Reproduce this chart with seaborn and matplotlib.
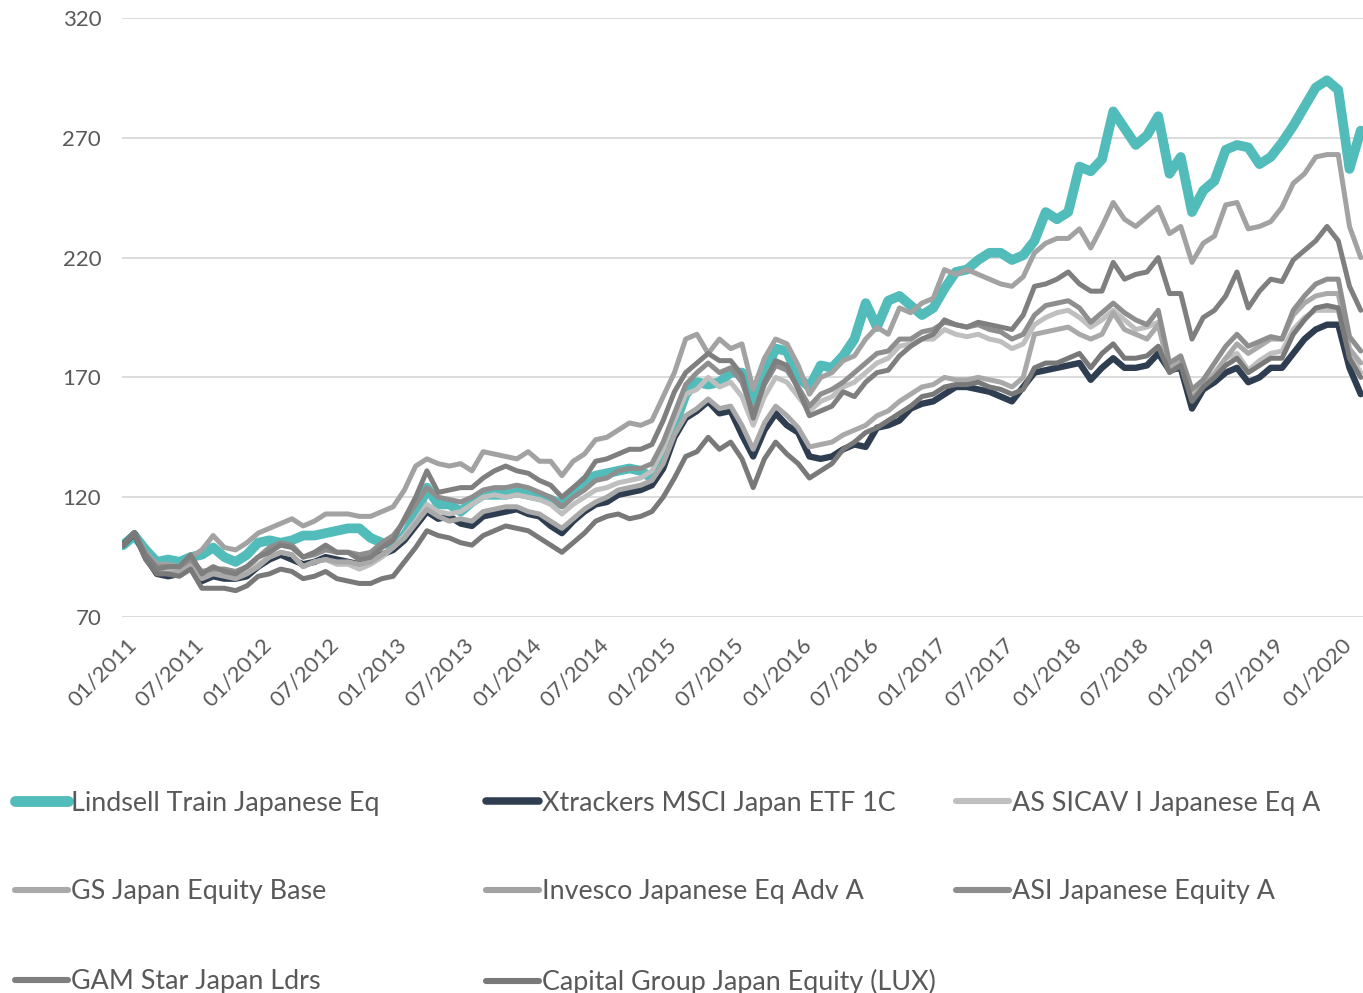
import numpy as np
import pandas as pd
import matplotlib
matplotlib.use("Agg")
import matplotlib.pyplot as plt
import seaborn as sns
from matplotlib.lines import Line2D
from matplotlib.transforms import ScaledTranslation

# ---------------- data ----------------
months = pd.date_range("2011-01-01", "2020-03-01", freq="MS")
tick_labels = ["01/2011", "07/2011", "01/2012", "07/2012", "01/2013", "07/2013",
               "01/2014", "07/2014", "01/2015", "07/2015", "01/2016", "07/2016",
               "01/2017", "07/2017", "01/2018", "07/2018", "01/2019", "07/2019",
               "01/2020"]

lindsell = [100, 104, 98, 93, 94, 93, 95, 96, 99, 95, 93, 96,
            101, 102, 101, 102, 104, 104, 105, 106, 107, 107, 103, 101,
            100, 104, 112, 124, 117, 117, 114, 118, 121, 121, 121, 122,
            121, 120, 119, 117, 122, 127, 129, 130, 131, 132, 131, 128,
            137, 150, 163, 168, 167, 168, 172, 172, 158, 172, 182, 181,
            170, 166, 175, 174, 179, 186, 201, 191, 202, 204, 200, 196,
            199, 207, 214, 215, 219, 222, 222, 219, 221, 227, 239, 236,
            239, 258, 256, 261, 281, 274, 267, 271, 279, 255, 262, 239,
            248, 252, 265, 267, 266, 259, 262, 268, 275, 283, 291, 294,
            290, 257, 273]

xtrackers = [100, 105, 95, 88, 87, 88, 92, 85, 87, 86, 86, 87,
             91, 94, 96, 94, 92, 93, 95, 94, 93, 92, 94, 96,
             98, 102, 108, 114, 111, 112, 109, 108, 112, 113, 114, 115,
             113, 112, 108, 105, 110, 114, 117, 118, 121, 122, 123, 125,
             132, 145, 153, 156, 160, 155, 156, 146, 137, 148, 155, 150,
             147, 137, 136, 137, 140, 142, 141, 149, 150, 152, 157, 159,
             160, 163, 166, 166, 165, 164, 162, 160, 166, 172, 173, 174,
             175, 176, 169, 174, 178, 174, 174, 175, 180, 173, 174, 157,
             165, 168, 172, 174, 168, 170, 174, 174, 180, 186, 190, 192,
             192, 174, 163]

as_sicav = [100, 105, 95, 90, 89, 89, 93, 87, 89, 88, 87, 89,
            92, 95, 97, 96, 91, 93, 94, 92, 92, 90, 92, 95,
            99, 104, 110, 117, 114, 113, 114, 117, 120, 121, 120, 121,
            120, 119, 117, 113, 117, 120, 123, 124, 126, 127, 128, 131,
            140, 152, 163, 165, 170, 166, 168, 162, 150, 162, 170, 168,
            162, 156, 160, 162, 166, 168, 172, 176, 178, 183, 184, 186,
            186, 190, 188, 187, 188, 186, 185, 182, 184, 192, 195, 197,
            198, 195, 191, 194, 198, 194, 190, 191, 193, 173, 177, 162,
            168, 172, 178, 180, 173, 177, 180, 181, 190, 195, 198, 198,
            198, 180, 172]

gs_japan = [100, 105, 95, 89, 88, 89, 92, 86, 88, 87, 86, 88,
            91, 95, 97, 96, 91, 93, 94, 93, 93, 92, 93, 96,
            99, 103, 109, 115, 112, 110, 111, 110, 114, 115, 116, 116,
            114, 113, 110, 107, 111, 115, 118, 120, 123, 124, 125, 127,
            134, 146, 154, 157, 161, 157, 158, 150, 140, 151, 158, 154,
            149, 141, 142, 143, 146, 148, 150, 154, 156, 160, 163, 166,
            167, 170, 169, 169, 170, 169, 168, 166, 170, 188, 189, 190,
            191, 188, 186, 188, 197, 190, 188, 186, 192, 173, 177, 161,
            167, 171, 178, 184, 180, 183, 186, 186, 196, 201, 204, 205,
            205, 182, 176]

invesco = [100, 105, 97, 92, 92, 91, 95, 98, 104, 99, 98, 101,
           105, 107, 109, 111, 108, 110, 113, 113, 113, 112, 112, 114,
           116, 123, 133, 136, 134, 133, 134, 131, 139, 138, 137, 136,
           139, 135, 135, 129, 135, 138, 144, 145, 148, 151, 150, 152,
           162, 172, 186, 188, 180, 186, 182, 184, 165, 178, 186, 184,
           175, 163, 170, 172, 177, 179, 186, 191, 188, 199, 197, 201,
           203, 215, 213, 215, 213, 211, 209, 208, 212, 222, 226, 228,
           228, 232, 224, 233, 243, 236, 233, 237, 241, 230, 233, 218,
           226, 229, 242, 243, 232, 233, 235, 241, 251, 255, 262, 263,
           263, 233, 220]

asi = [100, 105, 96, 91, 91, 91, 94, 89, 90, 90, 89, 91,
       95, 99, 101, 100, 95, 96, 98, 97, 97, 96, 97, 101,
       104, 110, 117, 124, 120, 119, 118, 120, 123, 124, 124, 125,
       124, 122, 120, 116, 120, 123, 127, 128, 131, 132, 132, 134,
       143, 155, 167, 172, 176, 172, 174, 168, 155, 167, 175, 173,
       166, 158, 163, 165, 168, 172, 176, 180, 181, 186, 186, 189,
       190, 193, 192, 191, 192, 190, 189, 186, 188, 196, 200, 201,
       202, 199, 193, 197, 201, 197, 194, 192, 198, 176, 179, 165,
       169, 176, 183, 188, 183, 185, 187, 186, 198, 204, 209, 211,
       211, 187, 181]

gam = [100, 105, 96, 90, 91, 91, 96, 88, 91, 89, 88, 91,
       95, 97, 100, 99, 95, 97, 100, 97, 97, 94, 95, 99,
       102, 111, 120, 131, 122, 123, 124, 124, 128, 131, 133, 131,
       130, 127, 125, 120, 124, 128, 135, 136, 138, 140, 140, 142,
       152, 164, 172, 176, 180, 177, 177, 171, 153, 168, 177, 175,
       165, 154, 156, 158, 164, 162, 168, 172, 173, 179, 183, 186,
       188, 194, 192, 191, 193, 192, 191, 190, 196, 208, 209, 211,
       214, 209, 206, 206, 218, 211, 213, 214, 220, 205, 205, 186,
       195, 198, 204, 214, 199, 206, 211, 210, 219, 223, 227, 233,
       227, 208, 198]

capital = [100, 105, 94, 88, 88, 87, 90, 82, 82, 82, 81, 83,
           87, 88, 90, 89, 86, 87, 89, 86, 85, 84, 84, 86,
           87, 93, 99, 106, 104, 103, 101, 100, 104, 106, 108, 107,
           106, 103, 100, 97, 101, 105, 110, 112, 113, 111, 112, 114,
           120, 128, 137, 139, 145, 140, 143, 136, 124, 136, 143, 138,
           134, 128, 131, 134, 140, 143, 147, 149, 152, 155, 158, 162,
           163, 166, 167, 167, 168, 166, 165, 163, 165, 174, 176, 176,
           178, 180, 174, 180, 184, 178, 178, 179, 183, 172, 175, 160,
           166, 170, 175, 178, 172, 175, 178, 178, 188, 194, 199, 200,
           199, 178, 170]

names = ["Lindsell Train Japanese Eq", "Xtrackers MSCI Japan ETF 1C",
         "AS SICAV I Japanese Eq A", "GS Japan Equity Base",
         "Invesco Japanese Eq Adv A", "ASI Japanese Equity A",
         "GAM Star Japan Ldrs", "Capital Group Japan Equity (LUX)"]
series = [lindsell, xtrackers, as_sicav, gs_japan, invesco, asi, gam, capital]
colors = ["#52BCBA", "#2E3E50", "#BFBFBF", "#A9A9A9",
          "#A2A2A2", "#8E8E8E", "#7F7F7F", "#797979"]
widths = [7.0, 4.6, 3.6, 3.6, 3.6, 3.6, 3.6, 3.6]

# ---------------- figure ----------------
W, H = 1363, 993
sns.set_theme(style="white")
plt.rcParams["font.family"] = ["Lato", "DejaVu Sans"]
fig = plt.figure(figsize=(W / 100, H / 100), dpi=100)
ax = fig.add_axes([122 / W, 1 - 617 / H, (1363 - 122) / W, (617 - 18) / H])

idx = np.arange(len(months))
for vals, c, lw in zip(series, colors, widths):
    sns.lineplot(x=idx, y=vals, ax=ax, color=c, linewidth=lw,
                 solid_capstyle="round", solid_joinstyle="round",
                 legend=False, zorder=3)

ax.set_xlim(-0.1, 110.2)
ax.set_ylim(70, 320)
ax.set_yticks([70, 120, 170, 220, 270, 320])
ax.set_xticks(np.arange(0, 109, 6))
ax.set_xticklabels(tick_labels, rotation=45, ha="right",
                   rotation_mode="anchor", va="center")
ax.grid(axis="y", color="#D9D9D9", linewidth=1.3, zorder=0)
ax.grid(axis="x", visible=False)
for s in ax.spines.values():
    s.set_visible(False)
ax.tick_params(axis="both", length=0, colors="#595959", labelsize=16)
ax.tick_params(axis="y", pad=15)
ax.tick_params(axis="x", pad=18)
ax.set_xlabel("")
ax.set_ylabel("")
off = ScaledTranslation(10 / 100, 0, fig.dpi_scale_trans)
for lab in ax.get_xticklabels():
    lab.set_transform(lab.get_transform() + off)

# ---------------- legend (3 columns) ----------------
col_x = [15, 486, 956]
row_y = [803, 892, 982]
for k, (nm, c, lw) in enumerate(zip(names, colors, widths)):
    r, cidx = divmod(k, 3)
    h = Line2D([0], [0], color=c, linewidth=lw + 0.8, solid_capstyle="round")
    fig.legend(handles=[h], labels=[nm], loc="center left",
               bbox_to_anchor=(col_x[cidx] / W, 1 - row_y[r] / H),
               frameon=False, borderpad=0, borderaxespad=0,
               handlelength=1.95, handletextpad=0.12,
               fontsize=19.4, labelcolor="#595959")

fig.savefig("out.png", dpi=100)
